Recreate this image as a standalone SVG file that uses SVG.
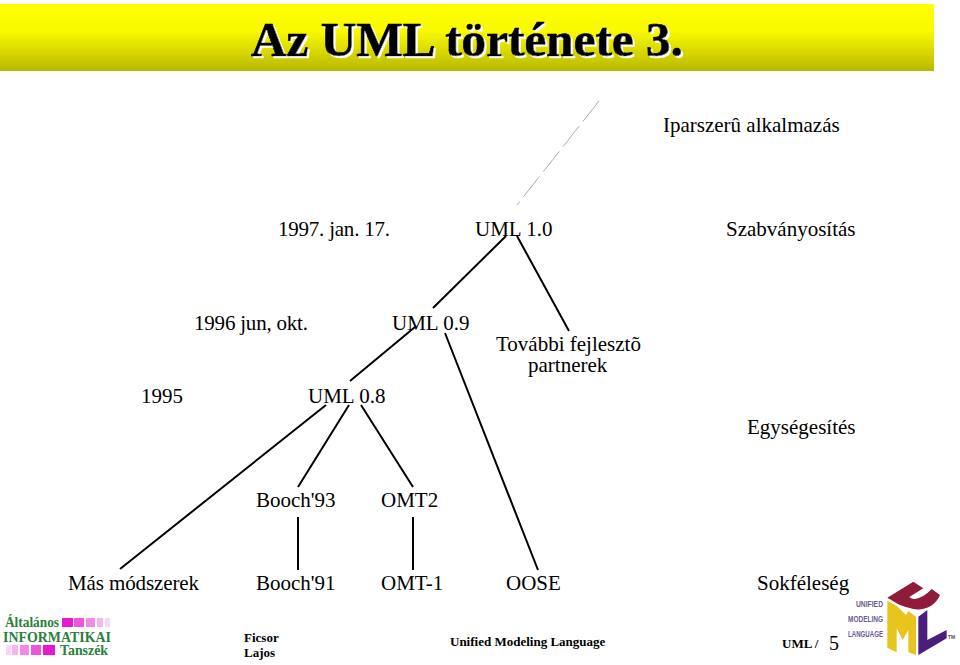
<svg xmlns="http://www.w3.org/2000/svg" width="960" height="665" viewBox="0 0 960 665">
<style>
text{font-family:"Liberation Serif","Times New Roman",serif;fill:#000}
.t{font-size:21px}
.f{font-size:13px;font-weight:bold}
.c{stroke:#000;stroke-width:2;fill:none}
.tt{font-size:49px;font-weight:bold;text-anchor:middle;stroke:#000;stroke-width:.7}
.l{font-size:14px;font-weight:bold;fill:#2a803a}
.u{font-family:"Liberation Sans",sans-serif;font-size:9.5px;font-weight:bold;fill:#6a5a94;text-anchor:end}
</style>
<defs>
<linearGradient id="g" x1="0" y1="0" x2="0" y2="1"><stop offset="0" stop-color="#ffff00"/><stop offset="0.4" stop-color="#fafa00"/><stop offset="1" stop-color="#b8b800"/></linearGradient>
<filter id="s" x="-5%" y="-20%" width="110%" height="140%"><feDropShadow dx="2" dy="2" stdDeviation="0.3" flood-color="#fff"/></filter>
</defs>
<rect width="960" height="665" fill="#fff"/>
<g id="title">
<rect x="0" y="4" width="934" height="67" fill="url(#g)"/>
<text class="tt" x="467" y="56" textLength="432" lengthAdjust="spacingAndGlyphs" filter="url(#s)">Az UML története 3.</text>
</g>
<g id="connectors">
<path d="M599 101L517 205" stroke="#aaa" stroke-width="1" stroke-dasharray="26 6" fill="none"/>
<path class="c" d="M506 236L433 308M517 236L569 331M415 327L350 381M445 333L538 570M326 405L120 569M349 405L298 487M361 405L413 487M298 517V570M413 517V570"/>
</g>
<g id="n1"><text class="t" x="663" y="132">Iparszerû alkalmazás</text></g>
<g id="n2"><text class="t" x="278" y="236" textLength="112">1997. jan. 17.</text></g>
<g id="n3"><text class="t" x="475" y="236">UML 1.0</text></g>
<g id="n4"><text class="t" x="726" y="236">Szabványosítás</text></g>
<g id="n5"><text class="t" x="194" y="330" textLength="114">1996 jun, okt.</text></g>
<g id="n6"><text class="t" x="392" y="330">UML 0.9</text></g>
<g id="n7"><text class="t" x="496" y="351">További fejlesztõ</text><text class="t" x="528" y="372">partnerek</text></g>
<g id="n8"><text class="t" x="141" y="403">1995</text></g>
<g id="n9"><text class="t" x="308" y="403">UML 0.8</text></g>
<g id="n10"><text class="t" x="747" y="434">Egységesítés</text></g>
<g id="n11"><text class="t" x="256" y="507">Booch'93</text></g>
<g id="n12"><text class="t" x="381" y="507">OMT2</text></g>
<g id="n13"><text class="t" x="68" y="590" textLength="131">Más módszerek</text></g>
<g id="n14"><text class="t" x="256" y="590">Booch'91</text></g>
<g id="n15"><text class="t" x="381" y="590">OMT-1</text></g>
<g id="n16"><text class="t" x="506" y="590">OOSE</text></g>
<g id="n17"><text class="t" x="757" y="590">Sokféleség</text></g>
<g id="footer">
<text class="f" x="244" y="642">Ficsor</text><text class="f" x="244" y="657">Lajos</text>
<text class="f" x="450" y="646">Unified Modeling Language</text>
<text class="f" x="782" y="648">UML /</text>
<text x="829" y="650" style="font-size:20px">5</text>
</g>
<g id="logo-left">
<text class="l" x="5" y="627" textLength="54" lengthAdjust="spacingAndGlyphs">Általános</text>
<text class="l" x="3" y="641.5" textLength="108" lengthAdjust="spacingAndGlyphs">INFORMATIKAI</text>
<text class="l" x="60" y="655" textLength="48" lengthAdjust="spacingAndGlyphs">Tanszék</text>
<rect x="62" y="618" width="11" height="9" fill="#e619d0"/><rect x="74" y="618" width="10" height="9" fill="#ee55dd"/><rect x="86" y="618" width="9" height="9" fill="#f38ae8"/><rect x="97" y="618" width="6" height="9" fill="#f7b5f0"/><rect x="105" y="618" width="5" height="9" fill="#fbd5f7"/>
<rect x="6" y="645" width="5" height="10" fill="#fbd5f7"/><rect x="12" y="645" width="6" height="10" fill="#f7b5f0"/><rect x="20" y="645" width="9" height="10" fill="#f38ae8"/><rect x="31" y="645" width="10" height="10" fill="#ee55dd"/><rect x="43" y="645" width="12" height="10" fill="#e619d0"/>
</g>
<g id="logo-uml">
<text class="u" x="883" y="607" textLength="27" lengthAdjust="spacingAndGlyphs">UNIFIED</text><text class="u" x="883" y="622" textLength="35" lengthAdjust="spacingAndGlyphs">MODELING</text><text class="u" x="883" y="637" textLength="35" lengthAdjust="spacingAndGlyphs">LANGUAGE</text>
<g transform="translate(880 575) scale(.3333)">
<path d="M22 68L100 20L130 40L88 66C100 78 125 72 155 42L180 60C165 95 130 108 100 102C85 99 70 95 55 88Z" fill="#8f1d3a"/>
<path d="M22 78L50 92L78 120L85 108L108 125V240L85 232V165L68 195L50 160V232L22 218Z" fill="#e8c51c"/>
<path d="M115 125L142 105V195L200 165V190L115 240Z" fill="#4a1f7a"/>
</g>
<text x="948" y="639" style="font-family:'Liberation Sans',sans-serif;font-size:5px;font-weight:bold;fill:#555">TM</text>
</g>
</svg>
